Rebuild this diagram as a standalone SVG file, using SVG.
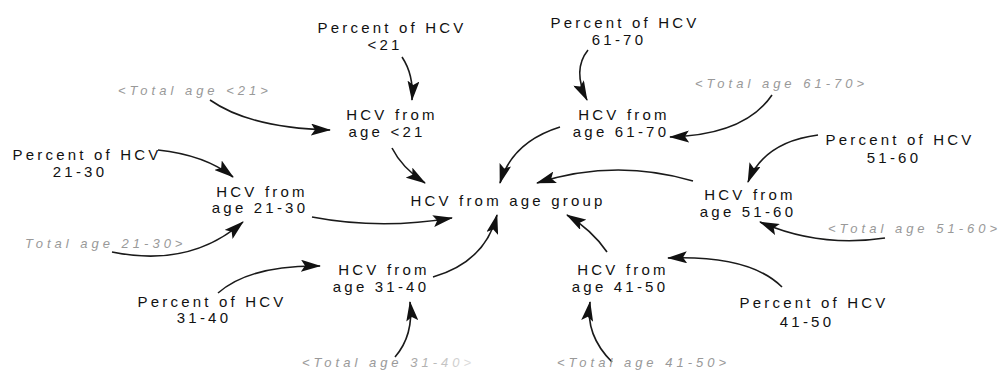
<svg xmlns="http://www.w3.org/2000/svg" width="1005" height="373" viewBox="0 0 1005 373">
  <style>
    .lbl { font-family: "Liberation Sans", Arial, sans-serif; font-size: 15px; letter-spacing: 3.2px; fill: #111; text-anchor: middle; }
    .shadow { font-family: "Liberation Sans", Arial, sans-serif; font-size: 13px; font-style: italic; letter-spacing: 4px; fill: #999; }
    .link { fill: none; stroke: #1a1a1a; stroke-width: 1.6; marker-end: url(#head); }
  </style>
  <defs>
    <marker id="head" viewBox="0 0 20 12" refX="19" refY="6" markerWidth="20" markerHeight="12" markerUnits="userSpaceOnUse" orient="auto">
      <path d="M0,0 L20,6 L0,12 L4,6 z" fill="#111"/>
    </marker>
    <!-- tail of the lower-left shadow label washes out -->
    <linearGradient id="fade" gradientUnits="userSpaceOnUse" x1="400" y1="0" x2="480" y2="0">
      <stop offset="0" stop-color="#999"/>
      <stop offset="1" stop-color="#e6e6e6"/>
    </linearGradient>
  </defs>
  <rect width="1005" height="373" fill="#fff"/>

  <!-- connectors -->
  <g id="connectors">
    <path class="link" d="M402,57 Q414,75 412,100"/>
    <path class="link" d="M210,100 Q250,128 330,130"/>
    <path class="link" d="M392,148 Q402,168 425,183"/>
    <path class="link" d="M588,50 Q572,70 587,100"/>
    <path class="link" d="M772,95 Q745,135 670,137"/>
    <path class="link" d="M560,127 Q512,142 500,183"/>
    <path class="link" d="M818,135 Q764,142 748,182"/>
    <path class="link" d="M693,181 Q615,158 537,183"/>
    <path class="link" d="M158,150 Q205,155 233,177"/>
    <path class="link" d="M312,217 Q380,230 452,218"/>
    <path class="link" d="M112,252 Q190,268 243,222"/>
    <path class="link" d="M218,293 Q250,265 320,266"/>
    <path class="link" d="M433,277 Q485,262 497,215"/>
    <path class="link" d="M395,357 Q414,335 410,302"/>
    <path class="link" d="M607,252 Q592,230 567,215"/>
    <path class="link" d="M612,362 Q585,335 590,302"/>
    <path class="link" d="M782,287 Q750,255 668,258"/>
    <path class="link" d="M885,238 Q820,248 760,222"/>
  </g>

  <!-- rate inputs -->
  <g id="pct-lt21"><text class="lbl" x="392" y="33">Percent of HCV</text><text class="lbl" x="385" y="50">&lt;21</text></g>
  <g id="pct-61-70"><text class="lbl" x="625" y="28">Percent of HCV</text><text class="lbl" x="619" y="45">61-70</text></g>
  <g id="pct-51-60"><text class="lbl" x="900" y="145">Percent of HCV</text><text class="lbl" x="894" y="163">51-60</text></g>
  <g id="pct-21-30"><text class="lbl" x="87" y="160">Percent of HCV</text><text class="lbl" x="80" y="177">21-30</text></g>
  <g id="pct-31-40"><text class="lbl" x="212" y="307">Percent of HCV</text><text class="lbl" x="204" y="323">31-40</text></g>
  <g id="pct-41-50"><text class="lbl" x="814" y="308">Percent of HCV</text><text class="lbl" x="807" y="327">41-50</text></g>

  <!-- shadow variables -->
  <g id="total-lt21"><text class="shadow" x="118" y="95">&lt;Total age &lt;21&gt;</text></g>
  <g id="total-61-70"><text class="shadow" x="695" y="88">&lt;Total age 61-70&gt;</text></g>
  <g id="total-21-30"><text class="shadow" x="25" y="248">Total age 21-30&gt;</text></g>
  <g id="total-51-60"><text class="shadow" x="828" y="233">&lt;Total age 51-60&gt;</text></g>
  <g id="total-31-40"><text class="shadow" x="302" y="367" fill="url(#fade)" style="fill:url(#fade)">&lt;Total age 31-40&gt;</text></g>
  <g id="total-41-50"><text class="shadow" x="557" y="367">&lt;Total age 41-50&gt;</text></g>

  <!-- age group variables -->
  <g id="hcv-lt21"><text class="lbl" x="392" y="120">HCV from</text><text class="lbl" x="387" y="137">age &lt;21</text></g>
  <g id="hcv-61-70"><text class="lbl" x="624" y="120">HCV from</text><text class="lbl" x="621" y="137">age 61-70</text></g>
  <g id="hcv-21-30"><text class="lbl" x="262" y="197">HCV from</text><text class="lbl" x="260" y="213">age 21-30</text></g>
  <g id="hcv-51-60"><text class="lbl" x="750" y="200">HCV from</text><text class="lbl" x="748" y="217">age 51-60</text></g>
  <g id="hcv-31-40"><text class="lbl" x="384" y="275">HCV from</text><text class="lbl" x="381" y="292">age 31-40</text></g>
  <g id="hcv-41-50"><text class="lbl" x="623" y="275">HCV from</text><text class="lbl" x="620" y="292">age 41-50</text></g>

  <!-- aggregate -->
  <g id="hcv-age-group"><text class="lbl" x="508" y="206">HCV from age group</text></g>
</svg>
